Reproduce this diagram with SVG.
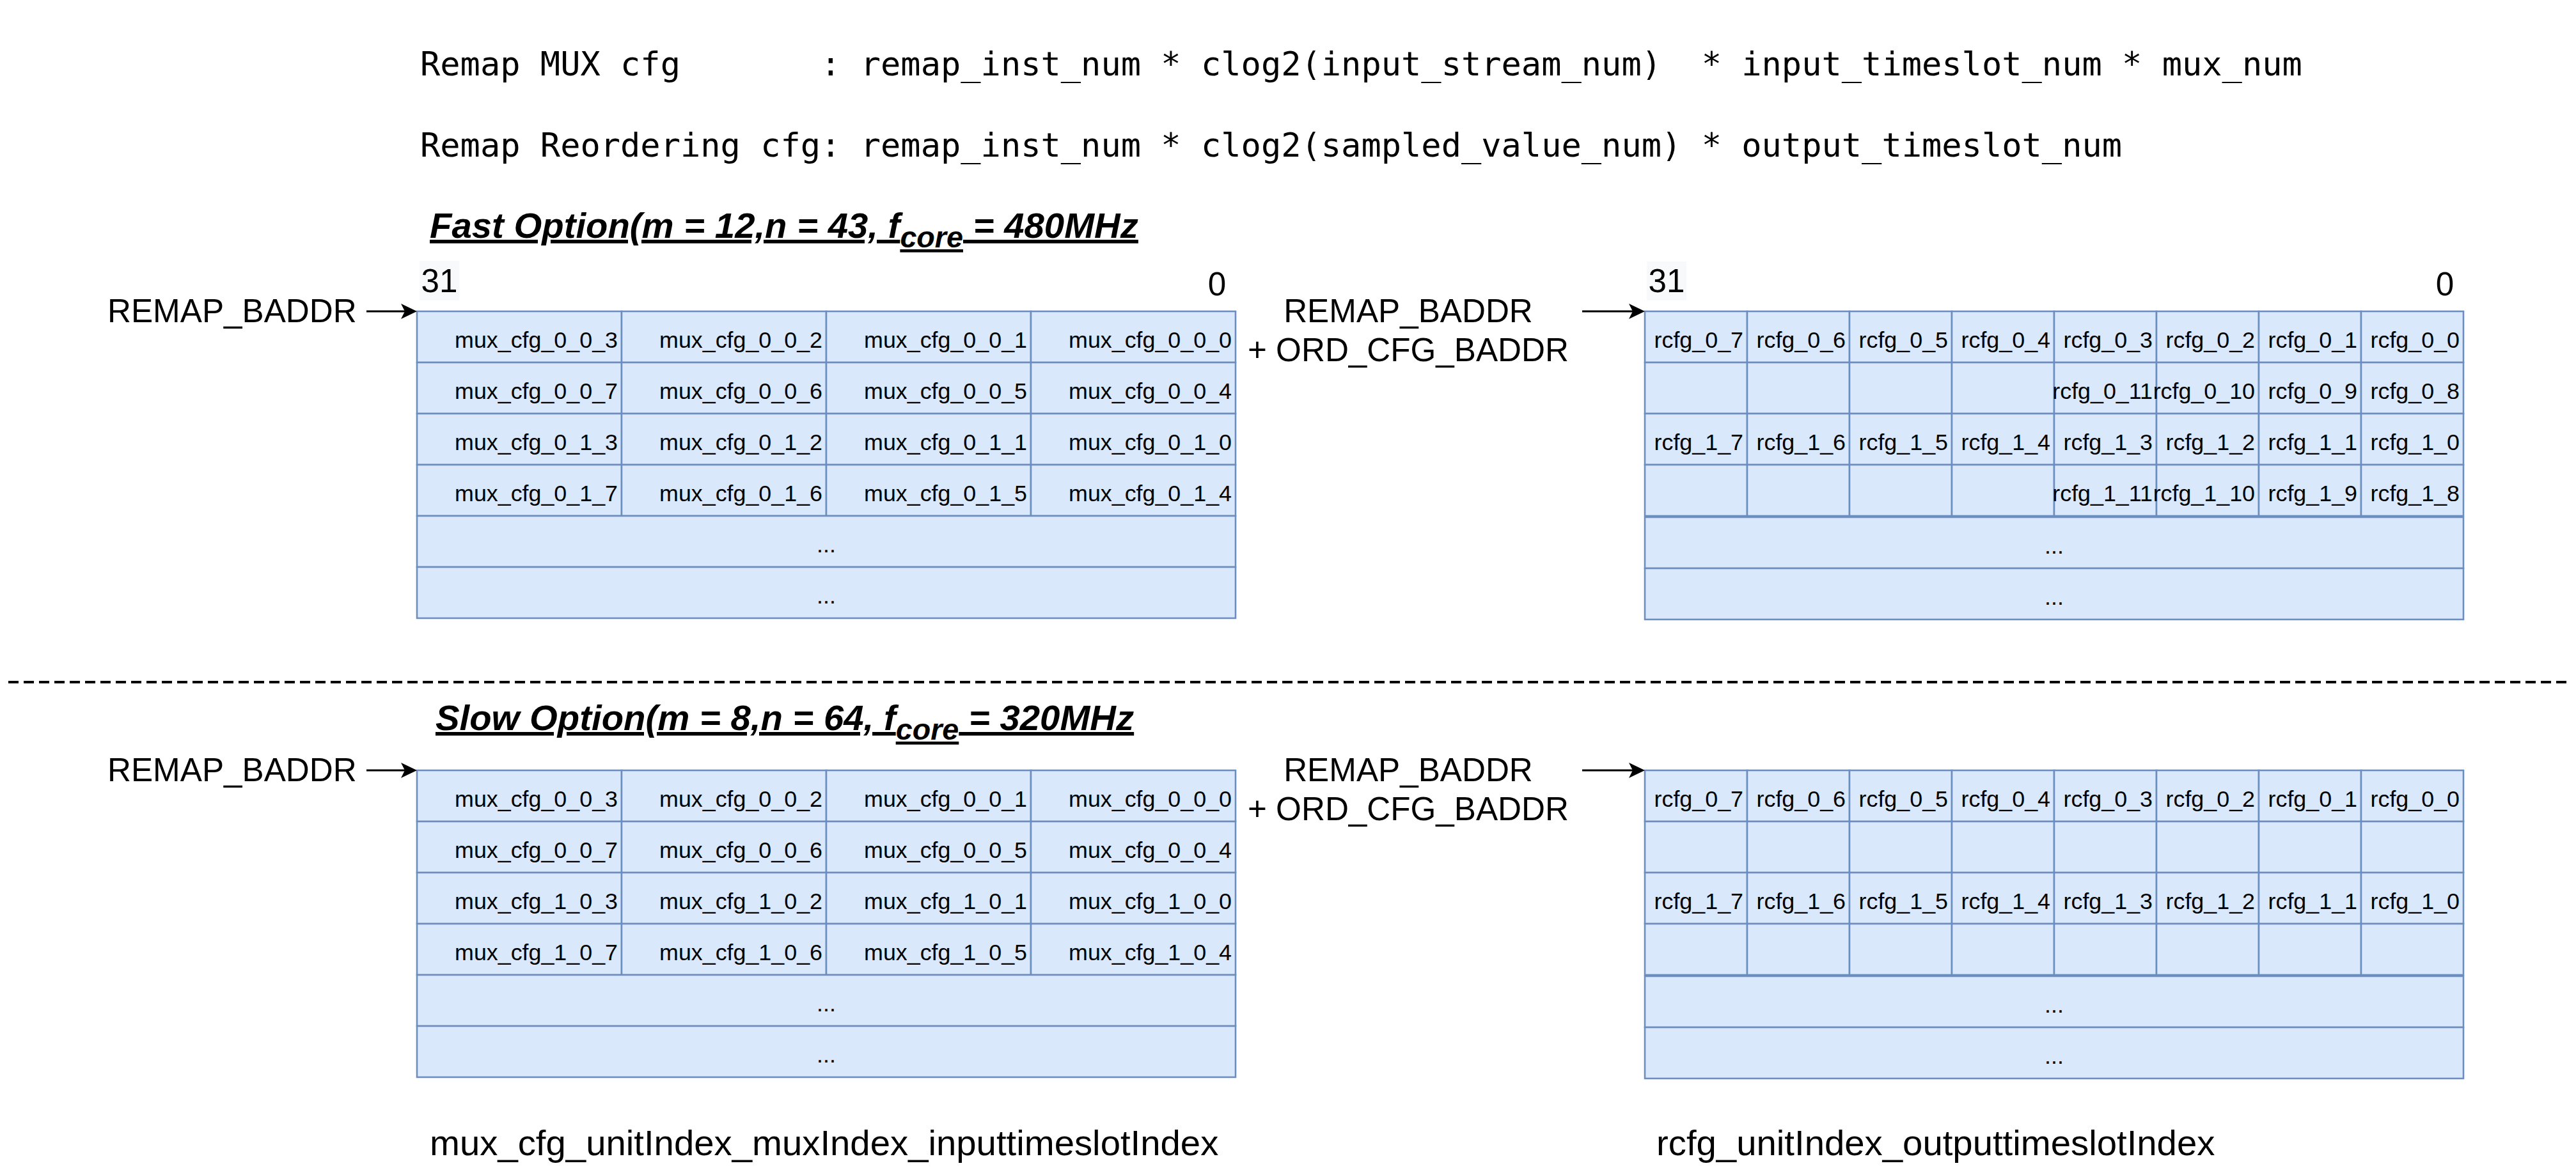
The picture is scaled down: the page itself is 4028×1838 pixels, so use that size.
<svg xmlns="http://www.w3.org/2000/svg" width="4028" height="1838" viewBox="0 0 4028 1838">
<style>
.cell{fill:#dae8fc;stroke:#6c8ebf;stroke-width:2.56}
.ct{font-family:"Liberation Sans",Arial,sans-serif;font-size:35.84px;text-anchor:end;fill:#000}
.dots{font-family:"Liberation Sans",Arial,sans-serif;font-size:35.84px;text-anchor:middle;fill:#000}
.lbl{font-family:"Liberation Sans",Arial,sans-serif;font-size:51.2px;fill:#000}
.mid{text-anchor:middle}
.mono{font-family:"DejaVu Sans Mono","Liberation Mono",monospace;font-size:52px;fill:#000;white-space:pre}
.title{font-family:"Liberation Sans",Arial,sans-serif;font-size:56.32px;font-weight:bold;font-style:italic;text-decoration:underline;fill:#000}
.foot{font-family:"Liberation Sans",Arial,sans-serif;font-size:56.32px;fill:#000}
.bitbg{fill:#f8f9fa}
.conn{stroke:#000;stroke-width:3;fill:none}
</style>
<defs>
<marker id="arr" markerUnits="userSpaceOnUse" viewBox="-26 -13 27 26" markerWidth="27" markerHeight="26" refX="-19" refY="0" orient="auto">
<path d="M0,0 L-25,-12 L-19,0 L-25,12 Z" fill="#000"/>
</marker>
</defs>
<rect width="4028" height="1838" fill="#fff"/>

<g id="formula-mux"><text class="mono" x="657" y="118" xml:space="preserve">Remap MUX cfg       : remap_inst_num * clog2(input_stream_num)  * input_timeslot_num * mux_num</text></g>
<g id="formula-reorder"><text class="mono" x="657" y="245" xml:space="preserve">Remap Reordering cfg: remap_inst_num * clog2(sampled_value_num) * output_timeslot_num</text></g>

<g id="title-fast"><text class="title" x="672" y="372">Fast Option(m = 12,n = 43, f<tspan font-size="46.7" dy="15">core</tspan><tspan dy="-15"> = 480MHz</tspan></text></g>
<g id="title-slow"><text class="title" x="681" y="1142">Slow Option(m = 8,n = 64, f<tspan font-size="46.7" dy="15">core</tspan><tspan dy="-15"> = 320MHz</tspan></text></g>

<g id="bits-left">
<rect class="bitbg" x="656" y="408" width="62" height="62"/>
<text class="lbl mid" x="687" y="457">31</text>
<text class="lbl mid" x="1903" y="462">0</text>
</g>
<g id="bits-right">
<rect class="bitbg" x="2575" y="409" width="62" height="61"/>
<text class="lbl mid" x="2606" y="457">31</text>
<text class="lbl mid" x="3823" y="462">0</text>
</g>

<g id="label-baddr-fast"><text class="lbl" x="168" y="504">REMAP_BADDR</text></g>
<g id="label-baddr-slow"><text class="lbl" x="168" y="1222">REMAP_BADDR</text></g>
<g id="label-ord-fast"><text class="lbl mid" x="2202" y="504">REMAP_BADDR</text><text class="lbl mid" x="2202" y="565">+ ORD_CFG_BADDR</text></g>
<g id="label-ord-slow"><text class="lbl mid" x="2202" y="1222">REMAP_BADDR</text><text class="lbl mid" x="2202" y="1283">+ ORD_CFG_BADDR</text></g>

<g id="separator"><line x1="13" y1="1067" x2="4015" y2="1067" stroke="#000" stroke-width="3.84" stroke-dasharray="16 8"/></g>

<g id="mux-table-fast">
<rect class="cell" x="652" y="487" width="320" height="80"/><rect class="cell" x="972" y="487" width="320" height="80"/><rect class="cell" x="1292" y="487" width="320" height="80"/><rect class="cell" x="1612" y="487" width="320" height="80"/>
<rect class="cell" x="652" y="567" width="320" height="80"/><rect class="cell" x="972" y="567" width="320" height="80"/><rect class="cell" x="1292" y="567" width="320" height="80"/><rect class="cell" x="1612" y="567" width="320" height="80"/>
<rect class="cell" x="652" y="647" width="320" height="80"/><rect class="cell" x="972" y="647" width="320" height="80"/><rect class="cell" x="1292" y="647" width="320" height="80"/><rect class="cell" x="1612" y="647" width="320" height="80"/>
<rect class="cell" x="652" y="727" width="320" height="80"/><rect class="cell" x="972" y="727" width="320" height="80"/><rect class="cell" x="1292" y="727" width="320" height="80"/><rect class="cell" x="1612" y="727" width="320" height="80"/>
<rect class="cell" x="652" y="807" width="1280" height="80"/>
<rect class="cell" x="652" y="887" width="1280" height="80"/>
<text class="ct" x="966" y="544">mux_cfg_0_0_3</text><text class="ct" x="1286" y="544">mux_cfg_0_0_2</text><text class="ct" x="1606" y="544">mux_cfg_0_0_1</text><text class="ct" x="1926" y="544">mux_cfg_0_0_0</text>
<text class="ct" x="966" y="624">mux_cfg_0_0_7</text><text class="ct" x="1286" y="624">mux_cfg_0_0_6</text><text class="ct" x="1606" y="624">mux_cfg_0_0_5</text><text class="ct" x="1926" y="624">mux_cfg_0_0_4</text>
<text class="ct" x="966" y="704">mux_cfg_0_1_3</text><text class="ct" x="1286" y="704">mux_cfg_0_1_2</text><text class="ct" x="1606" y="704">mux_cfg_0_1_1</text><text class="ct" x="1926" y="704">mux_cfg_0_1_0</text>
<text class="ct" x="966" y="784">mux_cfg_0_1_7</text><text class="ct" x="1286" y="784">mux_cfg_0_1_6</text><text class="ct" x="1606" y="784">mux_cfg_0_1_5</text><text class="ct" x="1926" y="784">mux_cfg_0_1_4</text>
<text class="dots" x="1292" y="864">...</text>
<text class="dots" x="1292" y="944">...</text>
</g>

<g id="mux-table-slow">
<rect class="cell" x="652" y="1205" width="320" height="80"/><rect class="cell" x="972" y="1205" width="320" height="80"/><rect class="cell" x="1292" y="1205" width="320" height="80"/><rect class="cell" x="1612" y="1205" width="320" height="80"/>
<rect class="cell" x="652" y="1285" width="320" height="80"/><rect class="cell" x="972" y="1285" width="320" height="80"/><rect class="cell" x="1292" y="1285" width="320" height="80"/><rect class="cell" x="1612" y="1285" width="320" height="80"/>
<rect class="cell" x="652" y="1365" width="320" height="80"/><rect class="cell" x="972" y="1365" width="320" height="80"/><rect class="cell" x="1292" y="1365" width="320" height="80"/><rect class="cell" x="1612" y="1365" width="320" height="80"/>
<rect class="cell" x="652" y="1445" width="320" height="80"/><rect class="cell" x="972" y="1445" width="320" height="80"/><rect class="cell" x="1292" y="1445" width="320" height="80"/><rect class="cell" x="1612" y="1445" width="320" height="80"/>
<rect class="cell" x="652" y="1525" width="1280" height="80"/>
<rect class="cell" x="652" y="1605" width="1280" height="80"/>
<text class="ct" x="966" y="1262">mux_cfg_0_0_3</text><text class="ct" x="1286" y="1262">mux_cfg_0_0_2</text><text class="ct" x="1606" y="1262">mux_cfg_0_0_1</text><text class="ct" x="1926" y="1262">mux_cfg_0_0_0</text>
<text class="ct" x="966" y="1342">mux_cfg_0_0_7</text><text class="ct" x="1286" y="1342">mux_cfg_0_0_6</text><text class="ct" x="1606" y="1342">mux_cfg_0_0_5</text><text class="ct" x="1926" y="1342">mux_cfg_0_0_4</text>
<text class="ct" x="966" y="1422">mux_cfg_1_0_3</text><text class="ct" x="1286" y="1422">mux_cfg_1_0_2</text><text class="ct" x="1606" y="1422">mux_cfg_1_0_1</text><text class="ct" x="1926" y="1422">mux_cfg_1_0_0</text>
<text class="ct" x="966" y="1502">mux_cfg_1_0_7</text><text class="ct" x="1286" y="1502">mux_cfg_1_0_6</text><text class="ct" x="1606" y="1502">mux_cfg_1_0_5</text><text class="ct" x="1926" y="1502">mux_cfg_1_0_4</text>
<text class="dots" x="1292" y="1582">...</text>
<text class="dots" x="1292" y="1662">...</text>
</g>

<g id="rcfg-table-fast">
<rect class="cell" x="2572" y="487" width="160" height="80"/><rect class="cell" x="2732" y="487" width="160" height="80"/><rect class="cell" x="2892" y="487" width="160" height="80"/><rect class="cell" x="3052" y="487" width="160" height="80"/><rect class="cell" x="3212" y="487" width="160" height="80"/><rect class="cell" x="3372" y="487" width="160" height="80"/><rect class="cell" x="3532" y="487" width="160" height="80"/><rect class="cell" x="3692" y="487" width="160" height="80"/>
<rect class="cell" x="2572" y="567" width="160" height="80"/><rect class="cell" x="2732" y="567" width="160" height="80"/><rect class="cell" x="2892" y="567" width="160" height="80"/><rect class="cell" x="3052" y="567" width="160" height="80"/><rect class="cell" x="3212" y="567" width="160" height="80"/><rect class="cell" x="3372" y="567" width="160" height="80"/><rect class="cell" x="3532" y="567" width="160" height="80"/><rect class="cell" x="3692" y="567" width="160" height="80"/>
<rect class="cell" x="2572" y="647" width="160" height="80"/><rect class="cell" x="2732" y="647" width="160" height="80"/><rect class="cell" x="2892" y="647" width="160" height="80"/><rect class="cell" x="3052" y="647" width="160" height="80"/><rect class="cell" x="3212" y="647" width="160" height="80"/><rect class="cell" x="3372" y="647" width="160" height="80"/><rect class="cell" x="3532" y="647" width="160" height="80"/><rect class="cell" x="3692" y="647" width="160" height="80"/>
<rect class="cell" x="2572" y="727" width="160" height="80"/><rect class="cell" x="2732" y="727" width="160" height="80"/><rect class="cell" x="2892" y="727" width="160" height="80"/><rect class="cell" x="3052" y="727" width="160" height="80"/><rect class="cell" x="3212" y="727" width="160" height="80"/><rect class="cell" x="3372" y="727" width="160" height="80"/><rect class="cell" x="3532" y="727" width="160" height="80"/><rect class="cell" x="3692" y="727" width="160" height="80"/>
<rect class="cell" x="2572" y="809" width="1280" height="80"/>
<rect class="cell" x="2572" y="889" width="1280" height="80"/>
<text class="ct" x="2726" y="544">rcfg_0_7</text><text class="ct" x="2886" y="544">rcfg_0_6</text><text class="ct" x="3046" y="544">rcfg_0_5</text><text class="ct" x="3206" y="544">rcfg_0_4</text><text class="ct" x="3366" y="544">rcfg_0_3</text><text class="ct" x="3526" y="544">rcfg_0_2</text><text class="ct" x="3686" y="544">rcfg_0_1</text><text class="ct" x="3846" y="544">rcfg_0_0</text>
<text class="ct" x="3366" y="624">rcfg_0_11</text><text class="ct" x="3526" y="624">rcfg_0_10</text><text class="ct" x="3686" y="624">rcfg_0_9</text><text class="ct" x="3846" y="624">rcfg_0_8</text>
<text class="ct" x="2726" y="704">rcfg_1_7</text><text class="ct" x="2886" y="704">rcfg_1_6</text><text class="ct" x="3046" y="704">rcfg_1_5</text><text class="ct" x="3206" y="704">rcfg_1_4</text><text class="ct" x="3366" y="704">rcfg_1_3</text><text class="ct" x="3526" y="704">rcfg_1_2</text><text class="ct" x="3686" y="704">rcfg_1_1</text><text class="ct" x="3846" y="704">rcfg_1_0</text>
<text class="ct" x="3366" y="784">rcfg_1_11</text><text class="ct" x="3526" y="784">rcfg_1_10</text><text class="ct" x="3686" y="784">rcfg_1_9</text><text class="ct" x="3846" y="784">rcfg_1_8</text>
<text class="dots" x="3212" y="866">...</text>
<text class="dots" x="3212" y="946">...</text>
</g>

<g id="rcfg-table-slow">
<rect class="cell" x="2572" y="1205" width="160" height="80"/><rect class="cell" x="2732" y="1205" width="160" height="80"/><rect class="cell" x="2892" y="1205" width="160" height="80"/><rect class="cell" x="3052" y="1205" width="160" height="80"/><rect class="cell" x="3212" y="1205" width="160" height="80"/><rect class="cell" x="3372" y="1205" width="160" height="80"/><rect class="cell" x="3532" y="1205" width="160" height="80"/><rect class="cell" x="3692" y="1205" width="160" height="80"/>
<rect class="cell" x="2572" y="1285" width="160" height="80"/><rect class="cell" x="2732" y="1285" width="160" height="80"/><rect class="cell" x="2892" y="1285" width="160" height="80"/><rect class="cell" x="3052" y="1285" width="160" height="80"/><rect class="cell" x="3212" y="1285" width="160" height="80"/><rect class="cell" x="3372" y="1285" width="160" height="80"/><rect class="cell" x="3532" y="1285" width="160" height="80"/><rect class="cell" x="3692" y="1285" width="160" height="80"/>
<rect class="cell" x="2572" y="1365" width="160" height="80"/><rect class="cell" x="2732" y="1365" width="160" height="80"/><rect class="cell" x="2892" y="1365" width="160" height="80"/><rect class="cell" x="3052" y="1365" width="160" height="80"/><rect class="cell" x="3212" y="1365" width="160" height="80"/><rect class="cell" x="3372" y="1365" width="160" height="80"/><rect class="cell" x="3532" y="1365" width="160" height="80"/><rect class="cell" x="3692" y="1365" width="160" height="80"/>
<rect class="cell" x="2572" y="1445" width="160" height="80"/><rect class="cell" x="2732" y="1445" width="160" height="80"/><rect class="cell" x="2892" y="1445" width="160" height="80"/><rect class="cell" x="3052" y="1445" width="160" height="80"/><rect class="cell" x="3212" y="1445" width="160" height="80"/><rect class="cell" x="3372" y="1445" width="160" height="80"/><rect class="cell" x="3532" y="1445" width="160" height="80"/><rect class="cell" x="3692" y="1445" width="160" height="80"/>
<rect class="cell" x="2572" y="1527" width="1280" height="80"/>
<rect class="cell" x="2572" y="1607" width="1280" height="80"/>
<text class="ct" x="2726" y="1262">rcfg_0_7</text><text class="ct" x="2886" y="1262">rcfg_0_6</text><text class="ct" x="3046" y="1262">rcfg_0_5</text><text class="ct" x="3206" y="1262">rcfg_0_4</text><text class="ct" x="3366" y="1262">rcfg_0_3</text><text class="ct" x="3526" y="1262">rcfg_0_2</text><text class="ct" x="3686" y="1262">rcfg_0_1</text><text class="ct" x="3846" y="1262">rcfg_0_0</text>
<text class="ct" x="2726" y="1422">rcfg_1_7</text><text class="ct" x="2886" y="1422">rcfg_1_6</text><text class="ct" x="3046" y="1422">rcfg_1_5</text><text class="ct" x="3206" y="1422">rcfg_1_4</text><text class="ct" x="3366" y="1422">rcfg_1_3</text><text class="ct" x="3526" y="1422">rcfg_1_2</text><text class="ct" x="3686" y="1422">rcfg_1_1</text><text class="ct" x="3846" y="1422">rcfg_1_0</text>
<text class="dots" x="3212" y="1584">...</text>
<text class="dots" x="3212" y="1664">...</text>
</g>

<g id="footer-mux"><text class="foot" x="672" y="1807">mux_cfg_unitIndex_muxIndex_inputtimeslotIndex</text></g>
<g id="footer-rcfg"><text class="foot" x="2590" y="1807">rcfg_unitIndex_outputtimeslotIndex</text></g>

<g id="connectors">
<line class="conn" x1="573" y1="487" x2="633" y2="487" marker-end="url(#arr)"/>
<line class="conn" x1="2474" y1="487" x2="2553" y2="487" marker-end="url(#arr)"/>
<line class="conn" x1="573" y1="1205" x2="633" y2="1205" marker-end="url(#arr)"/>
<line class="conn" x1="2474" y1="1205" x2="2553" y2="1205" marker-end="url(#arr)"/>
</g>
</svg>
